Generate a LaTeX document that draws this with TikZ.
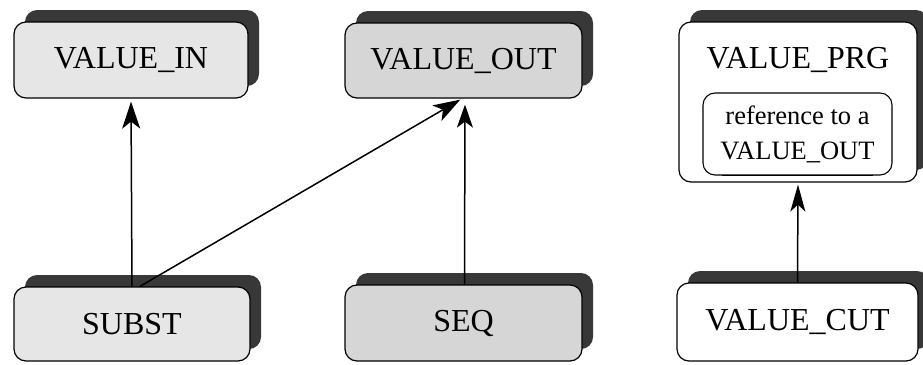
\documentclass[tikz,border=0pt]{standalone}
\usepackage{fontspec}
\setmainfont{Liberation Serif}
\usetikzlibrary{shadows,arrows.meta,calc}
\definecolor{rimgray}{HTML}{383838}
\definecolor{paleA}{HTML}{E6E6E6}
\definecolor{paleB}{HTML}{D6D6D6}
\begin{document}
\begin{tikzpicture}[x=1pt,y=-1pt,
  box/.style={draw=black, line width=1.2pt, rounded corners=12pt, inner sep=0pt,
    font=\fontsize{32}{38}\selectfont,
    general shadow={shadow xshift=11pt, shadow yshift=12pt, fill=rimgray, draw=none}},
  refbox/.style={draw=black, line width=1.1pt, rounded corners=12pt, inner sep=0pt,
    align=center, font=\fontsize{26.5}{35}\selectfont},
  link/.style={line width=1.5pt, -{Stealth[length=27pt,width=18pt,inset=7pt]}}]
  \useasboundingbox (0,0) rectangle (923,364);

  % upper row
  \node[box, fill=paleA, minimum width=234pt, minimum height=76pt] (vin) at (131,60) {VALUE\_IN};
  \node[box, fill=paleB, minimum width=237pt, minimum height=75pt] (vout) at (463.5,60.5) {VALUE\_OUT};
  \node[box, fill=white, minimum width=238pt, minimum height=160pt] (vprg) at (798,102) {};
  \node[font=\fontsize{32}{38}\selectfont, inner sep=0pt] (prgtitle) at (798,60) {VALUE\_PRG};
  \node[refbox, minimum width=189pt, minimum height=82pt] (prgref) at (797.5,134)
    {reference to a\\VALUE\_OUT};
  \draw[line width=1.8pt] ($(prgref.south west)+(20,0)$) -- ($(prgref.south east)+(-20,0)$);

  % lower row
  \node[box, fill=paleA, minimum width=236pt, minimum height=74pt] (subst) at (132,324) {SUBST};
  \node[box, fill=paleB, minimum width=237pt, minimum height=76pt] (seq) at (463.5,323) {SEQ};
  \node[box, fill=white, minimum width=241pt, minimum height=78pt] (vcut) at (797.5,322) {VALUE\_CUT};

  % connectors
  \draw[link, shorten >=3pt] (subst.north) -- (vin.south);
  \draw[link, shorten >=2pt] ($(subst.north)+(8,0)$) -- ($(vout.south)+(-1.5,0)$);
  \draw[link, shorten >=6pt, -{Stealth[length=23pt,width=16pt,inset=6pt]}] ($(seq.north)+(1,0)$) -- ($(vout.south)+(1.5,0)$);
  \draw[link, shorten >=2pt, -{Stealth[length=27pt,width=15pt,inset=7pt]}] (vcut.north) -- (vprg.south);
\end{tikzpicture}
\end{document}
